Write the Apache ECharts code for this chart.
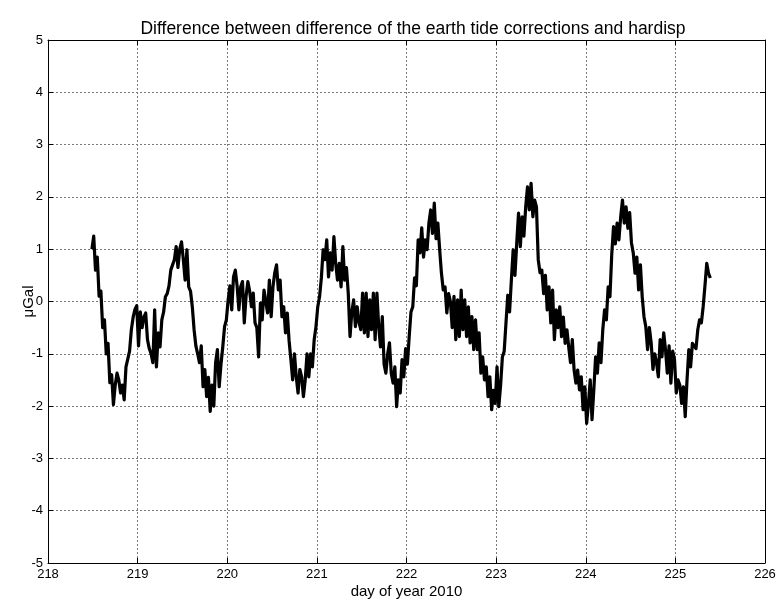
<!DOCTYPE html>
<html>
<head>
<meta charset="utf-8">
<title>Earth tide correction difference</title>
<script src="https://cdn.jsdelivr.net/npm/echarts@6/dist/echarts.min.js"></script>
<style>
  html, body { margin: 0; padding: 0; background: #fff; }
  #chart { width: 779px; height: 601px; }
</style>
</head>
<body>
<div id="chart"></div>
<script>
// Residual (µGal) sampled every 0.02 day starting at day 218.49
const startDay = 218.49;
const sampleStep = 0.02;
const residual = [
  1.0, 1.25, 0.6, 0.85, 0.1, 0.2, -0.5, -0.35, -1.0, -0.8,
  -1.55, -1.4, -1.97, -1.6, -1.37, -1.5, -1.75, -1.6, -1.88, -1.25,
  -1.1, -0.95, -0.54, -0.3, -0.15, -0.08, -0.85, -0.2, -0.5, -0.3,
  -0.22, -0.73, -0.9, -1.0, -1.17, -0.16, -1.25, -0.6, -0.87, -0.35,
  -0.2, 0.09, 0.15, 0.3, 0.6, 0.7, 0.8, 1.05, 0.65, 1.0,
  1.14, 0.8, 0.41, 0.99, 0.28, 0.2, -0.1, -0.54, -0.85, -1.0,
  -1.17, -0.85, -1.63, -1.3, -1.82, -1.45, -2.1, -1.6, -2.0, -1.17,
  -0.92, -1.63, -1.2, -0.87, -0.48, -0.35, 0.03, 0.3, -0.16, 0.47,
  0.6, 0.3, -0.16, 0.28, 0.38, -0.41, 0.1, 0.38, 0.2, -0.1,
  0.16, -0.41, -0.5, -1.06, -0.03, -0.35, 0.22, 0.0, -0.22, 0.41,
  -0.29, 0.28, 0.55, 0.7, 0.22, 0.41, -0.29, -0.1, -0.6, -0.22,
  -0.75, -1.11, -1.5, -1.0, -1.44, -1.75, -1.3, -1.44, -1.82, -1.5,
  -1.0, -1.44, -1.0, -1.25, -0.73, -0.48, -0.1, 0.09, 0.45, 0.99,
  0.8, 1.18, 0.47, 0.93, 0.6, 1.24, 0.73, 0.41, 0.73, 0.28,
  1.05, 0.41, 0.65, 0.16, -0.67, -0.2, 0.03, -0.48, -0.1, -0.4,
  -0.54, 0.16, -0.6, 0.16, -0.67, 0.03, -0.54, 0.16, -0.73, 0.16,
  -0.48, -0.87, -0.29, -1.2, -1.37, -1.0, -0.79, -1.37, -1.56, -1.25,
  -2.01, -1.5, -1.75, -1.11, -1.44, -0.9, -1.2, -0.67, -0.2, -0.1,
  0.45, 0.3, 1.18, 0.93, 1.41, 0.85, 1.18, 0.99, 1.5, 1.75,
  1.3, 1.88, 1.2, 1.5, 0.99, 0.54, 0.22, 0.28, -0.22, 0.15,
  0.0, -0.5, 0.1, -0.73, 0.03, -0.67, 0.22, -0.54, 0.03, -0.67,
  -0.1, -0.79, -0.29, -0.92, -0.35, -0.92, -0.6, -1.37, -1.06, -1.5,
  -1.25, -1.82, -1.44, -2.07, -1.7, -1.95, -1.25, -2.01, -1.6, -1.06,
  -0.95, -0.41, 0.12, -0.2, 0.41, 0.99, 0.5, 1.12, 1.69, 1.05,
  1.62, 1.25, 1.81, 2.19, 1.75, 2.26, 1.62, 1.94, 1.81, 0.8,
  0.55, 0.6, 0.15, 0.5, -0.16, 0.28, -0.41, 0.22, -0.73, -0.16,
  -0.5, -0.1, -0.67, -0.3, -0.8, -0.54, -0.87, -1.17, -0.73, -1.31,
  -1.56, -1.31, -1.69, -1.44, -2.07, -1.63, -2.33, -1.95, -1.5, -2.26,
  -1.69, -1.06, -1.37, -0.79, -1.17, -0.54, -0.16, -0.35, 0.28, 0.09,
  0.9, 1.43, 1.1, 1.5, 1.18, 1.62, 1.94, 1.5, 1.81, 1.4,
  1.7, 1.12, 0.93, 0.54, 0.85, 0.22, 0.7, 0.09, -0.29, -0.48,
  -0.92, -0.5, -0.79, -1.3, -1.0, -1.17, -1.44, -0.73, -1.06, -0.6,
  -0.92, -1.37, -0.85, -1.56, -0.95, -1.1, -1.75, -1.5, -1.6, -1.95,
  -1.63, -2.2, -1.5, -0.92, -1.25, -0.8, -0.8, -0.9, -0.54, -0.35,
  -0.41, -0.1, 0.3, 0.73, 0.54, 0.45
];

const xTicks = [218, 219, 220, 221, 222, 223, 224, 225, 226];
const yTicks = [-5, -4, -3, -2, -1, 0, 1, 2, 3, 4, 5];

const titleText = 'Difference between difference of the earth tide corrections and hardisp';
const xName = 'day of year 2010';
const yName = 'μGal';

const points = residual.map((v, i) => [startDay + i * sampleStep, v]);

const FONT = '"Liberation Sans", Arial, Helvetica, sans-serif';
const gridLine = { show: true, lineStyle: { color: '#7a7a7a', width: 1, type: [2, 2] } };
const frameLine = { show: true, onZero: false, lineStyle: { color: '#000', width: 1 } };
const inTick = { show: true, inside: true, length: 5, lineStyle: { color: '#000' } };

const chart = echarts.init(document.getElementById('chart'), null, { renderer: 'canvas' });
chart.setOption({
  animation: false,
  backgroundColor: '#fff',
  title: {
    text: titleText,
    left: 408,
    textAlign: 'center',
    top: 15,
    textStyle: { fontFamily: FONT, fontSize: 17.5, fontWeight: 'normal', color: '#000' }
  },
  grid: { left: 48, right: 14, top: 40, bottom: 38, containLabel: false, outerBoundsMode: 'none' },
  xAxis: [
    {
      type: 'value',
      min: xTicks[0], max: xTicks[xTicks.length - 1], interval: 1,
      position: 'bottom',
      name: xName, nameLocation: 'middle', nameGap: 21, nameMoveOverlap: false,
      nameTextStyle: { fontFamily: FONT, fontSize: 15, color: '#000' },
      axisLine: frameLine,
      axisTick: inTick,
      axisLabel: { fontFamily: FONT, fontSize: 13, color: '#000', margin: 5,
        formatter: v => String(v) },
      splitLine: gridLine
    },
    {
      type: 'value',
      min: xTicks[0], max: xTicks[xTicks.length - 1], interval: 1,
      position: 'top',
      axisLine: frameLine,
      axisTick: inTick,
      axisLabel: { show: false },
      splitLine: { show: false }
    }
  ],
  yAxis: [
    {
      type: 'value',
      min: yTicks[0], max: yTicks[yTicks.length - 1], interval: 1,
      position: 'left',
      name: yName, nameLocation: 'middle', nameGap: 12, nameRotate: 90, nameMoveOverlap: false,
      nameTextStyle: { fontFamily: FONT, fontSize: 15, color: '#000' },
      axisLine: frameLine,
      axisTick: inTick,
      axisLabel: { fontFamily: FONT, fontSize: 13, color: '#000', margin: 5 },
      splitLine: gridLine
    },
    {
      type: 'value',
      min: yTicks[0], max: yTicks[yTicks.length - 1], interval: 1,
      position: 'right',
      axisLine: frameLine,
      axisTick: inTick,
      axisLabel: { show: false },
      splitLine: { show: false }
    }
  ],
  series: [
    {
      type: 'line',
      data: points,
      xAxisIndex: 0,
      yAxisIndex: 0,
      showSymbol: false,
      symbol: 'none',
      lineStyle: { color: '#000', width: 3.2, join: 'round' },
      z: 5
    }
  ]
});
</script>
</body>
</html>
